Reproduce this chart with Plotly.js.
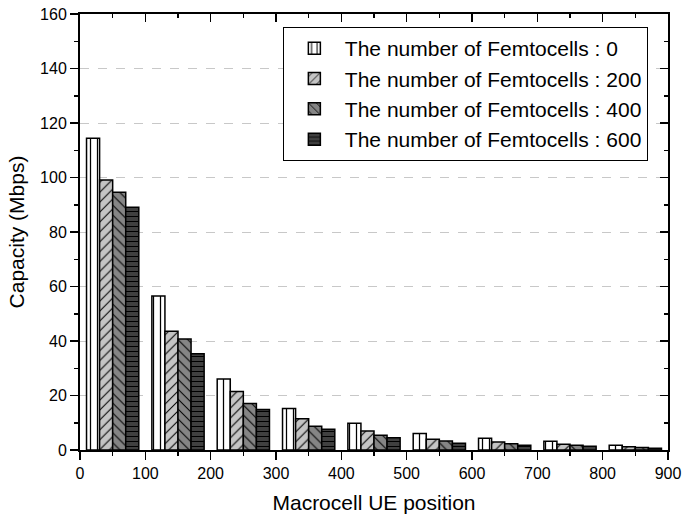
<!DOCTYPE html>
<html>
<head>
<meta charset="utf-8">
<script src="https://cdn.plot.ly/plotly-3.0.1.min.js"></script>
<style>html,body{margin:0;padding:0;background:#fff;}#chart{width:686px;height:520px;}</style>
</head>
<body>
<div id="chart"></div>
<script>
var positions = [50, 150, 250, 350, 450, 550, 650, 750, 850];
var femto0   = [114.4, 56.5, 26.1, 15.2, 9.8, 6.1, 4.3, 3.2, 1.7];
var femto200 = [99.1, 43.6, 21.5, 11.5, 7.0, 3.9, 2.9, 2.1, 1.2];
var femto400 = [94.6, 40.7, 17.1, 8.7, 5.4, 3.3, 2.3, 1.7, 0.9];
var femto600 = [89.1, 35.3, 14.9, 7.6, 4.5, 2.5, 1.7, 1.4, 0.6];
var names = ['The number of Femtocells : 0', 'The number of Femtocells : 200',
             'The number of Femtocells : 400', 'The number of Femtocells : 600'];
var xTicks = [0, 100, 200, 300, 400, 500, 600, 700, 800, 900];
var yTicks = [0, 20, 40, 60, 80, 100, 120, 140, 160];

var styles = [
  {bg: '#ffffff', shape: '|', size: 7, sol: 0.18},
  {bg: '#c4c4c4', shape: '/', size: 7, sol: 0.15},
  {bg: '#858585', shape: '\\', size: 7, sol: 0.15},
  {bg: '#404040', shape: '-', size: 5, sol: 0.2}
];
var series = [femto0, femto200, femto400, femto600];
var traces = series.map(function (vals, i) {
  return {
    type: 'bar', x: positions, y: vals, name: names[i],
    marker: {
      color: styles[i].bg,
      line: {color: '#000', width: 1.5},
      pattern: {shape: styles[i].shape, fgcolor: '#000', bgcolor: styles[i].bg,
                size: styles[i].size, solidity: styles[i].sol, fillmode: 'replace'}
    },
    hoverinfo: 'skip'
  };
});
traces.push({type: 'scatter', x: [], y: [], xaxis: 'x2', yaxis: 'y2', showlegend: false, hoverinfo: 'skip'});

var font = {family: 'Arial, "Liberation Sans", sans-serif', color: '#000'};
var layout = {
  width: 686, height: 520,
  margin: {l: 80, r: 18, t: 14, b: 70},
  paper_bgcolor: '#fff', plot_bgcolor: '#fff',
  font: {family: font.family, color: '#000', size: 16},
  barmode: 'group', bargap: 0.2, bargroupgap: 0,
  showlegend: true,
  legend: {x: 0.345, y: 0.97, xanchor: 'left', yanchor: 'top',
           bgcolor: '#fff', bordercolor: '#000', borderwidth: 1,
           font: {family: font.family, size: 21, color: '#000'},
           tracegroupgap: 0, itemwidth: 51},
  xaxis: {
    range: [0, 900], tickvals: xTicks, ticktext: xTicks.map(String),
    ticks: 'outside', ticklen: 8, tickwidth: 1.5, tickcolor: '#000',
    minor: {ticks: 'outside', ticklen: 4, tickwidth: 1.5, dtick: 50, tick0: 0, tickcolor: '#000'},
    showline: true, linecolor: '#000', linewidth: 2, showgrid: false, zeroline: false,
    tickfont: {size: 16, family: font.family, color: '#000'},
    title: {text: 'Macrocell UE position', font: {size: 21, family: font.family, color: '#000'}, standoff: 14}
  },
  yaxis: {
    range: [0, 160], tickvals: yTicks, ticktext: yTicks.map(String),
    ticks: 'outside', ticklen: 8, tickwidth: 1.5, tickcolor: '#000',
    minor: {ticks: 'outside', ticklen: 4, tickwidth: 1.5, dtick: 10, tick0: 0, tickcolor: '#000'},
    showline: true, linecolor: '#000', linewidth: 2,
    showgrid: true, gridcolor: '#c8c8c8', griddash: 'dash', gridwidth: 1, zeroline: false,
    tickfont: {size: 16, family: font.family, color: '#000'},
    title: {text: 'Capacity (Mbps)', font: {size: 21, family: font.family, color: '#000'}, standoff: 10}
  },
  xaxis2: {
    overlaying: 'x', side: 'top', anchor: 'y2', range: [0, 900], tickvals: xTicks,
    showticklabels: false, ticks: 'inside', ticklen: 8, tickwidth: 1.5, tickcolor: '#000',
    minor: {ticks: 'inside', ticklen: 4, tickwidth: 1.5, dtick: 50, tick0: 0, tickcolor: '#000'},
    showline: true, linecolor: '#000', linewidth: 2, showgrid: false, zeroline: false
  },
  yaxis2: {
    overlaying: 'y', side: 'right', anchor: 'x2', range: [0, 160], tickvals: yTicks,
    showticklabels: false, ticks: 'inside', ticklen: 8, tickwidth: 1.5, tickcolor: '#000',
    minor: {ticks: 'inside', ticklen: 4, tickwidth: 1.5, dtick: 10, tick0: 0, tickcolor: '#000'},
    showline: true, linecolor: '#000', linewidth: 2, showgrid: false, zeroline: false
  }
};
Plotly.newPlot('chart', traces, layout, {displayModeBar: false, staticPlot: true});
</script>
</body>
</html>
